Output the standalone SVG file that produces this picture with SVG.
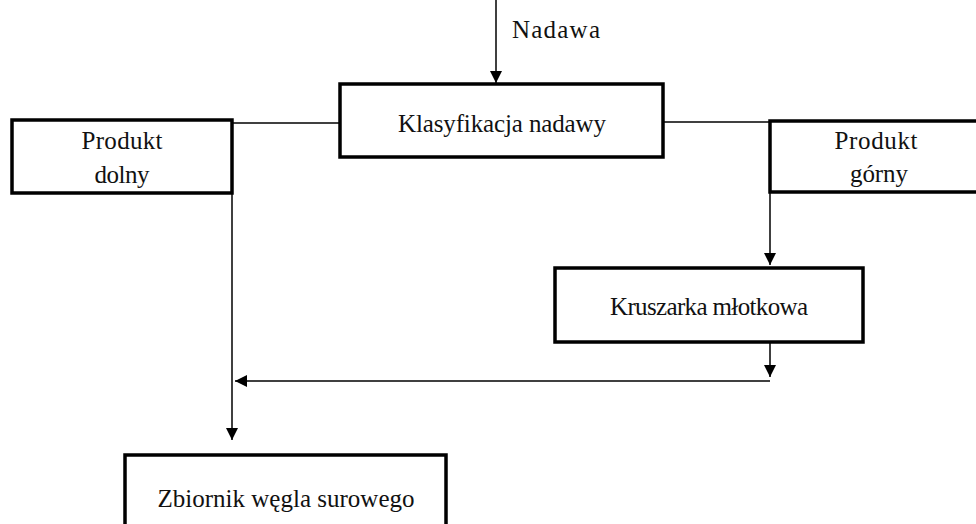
<svg xmlns="http://www.w3.org/2000/svg" width="976" height="524" viewBox="0 0 976 524">
<style>
.box{fill:#fff;stroke:#000;stroke-width:3.5}
.ln{fill:none;stroke:#000;stroke-width:1.5}
text{font-family:"Liberation Serif","Times New Roman",serif;font-size:25px;fill:#111}
.c{text-anchor:middle}
</style>
<defs>
<marker id="ah" viewBox="0 0 12 12" refX="12" refY="6" markerWidth="12" markerHeight="12" markerUnits="userSpaceOnUse" orient="auto">
<path d="M0,0 L12,6 L0,12 Z" fill="#000"/>
</marker>
</defs>
<rect width="976" height="524" fill="#fff"/>
<g id="connectors">
<line class="ln" x1="496" y1="0" x2="496" y2="83" marker-end="url(#ah)"/>
<line class="ln" x1="232" y1="123" x2="340" y2="123"/>
<line class="ln" x1="663" y1="122" x2="770" y2="122"/>
<line class="ln" x1="770" y1="192" x2="770" y2="265" marker-end="url(#ah)"/>
<line class="ln" x1="770" y1="342" x2="770" y2="377" marker-end="url(#ah)"/>
<line class="ln" x1="770" y1="381" x2="235" y2="381" marker-end="url(#ah)"/>
<line class="ln" x1="232" y1="193" x2="232" y2="440" marker-end="url(#ah)"/>
<text x="512" y="38" textLength="88" lengthAdjust="spacing">Nadawa</text>
</g>
<g id="klasyfikacja">
<rect class="box" x="340" y="84" width="323" height="73"/>
<text class="c" x="502" y="132" textLength="208" lengthAdjust="spacing">Klasyfikacja nadawy</text>
</g>
<g id="produkt-dolny">
<rect class="box" x="12" y="120" width="220" height="73"/>
<text class="c" x="122" y="149" textLength="81" lengthAdjust="spacing">Produkt</text>
<text class="c" x="122" y="183" textLength="55" lengthAdjust="spacing">dolny</text>
</g>
<g id="produkt-gorny">
<rect class="box" x="770" y="121" width="212" height="71"/>
<text class="c" x="876" y="149" textLength="83" lengthAdjust="spacing">Produkt</text>
<text class="c" x="879" y="182" textLength="58" lengthAdjust="spacing">górny</text>
</g>
<g id="kruszarka">
<rect class="box" x="555" y="268" width="308" height="74"/>
<text class="c" x="709" y="315" textLength="198" lengthAdjust="spacing">Kruszarka młotkowa</text>
</g>
<g id="zbiornik">
<rect class="box" x="125" y="455" width="321" height="80"/>
<text class="c" x="286" y="507" textLength="257" lengthAdjust="spacing">Zbiornik węgla surowego</text>
</g>
</svg>
